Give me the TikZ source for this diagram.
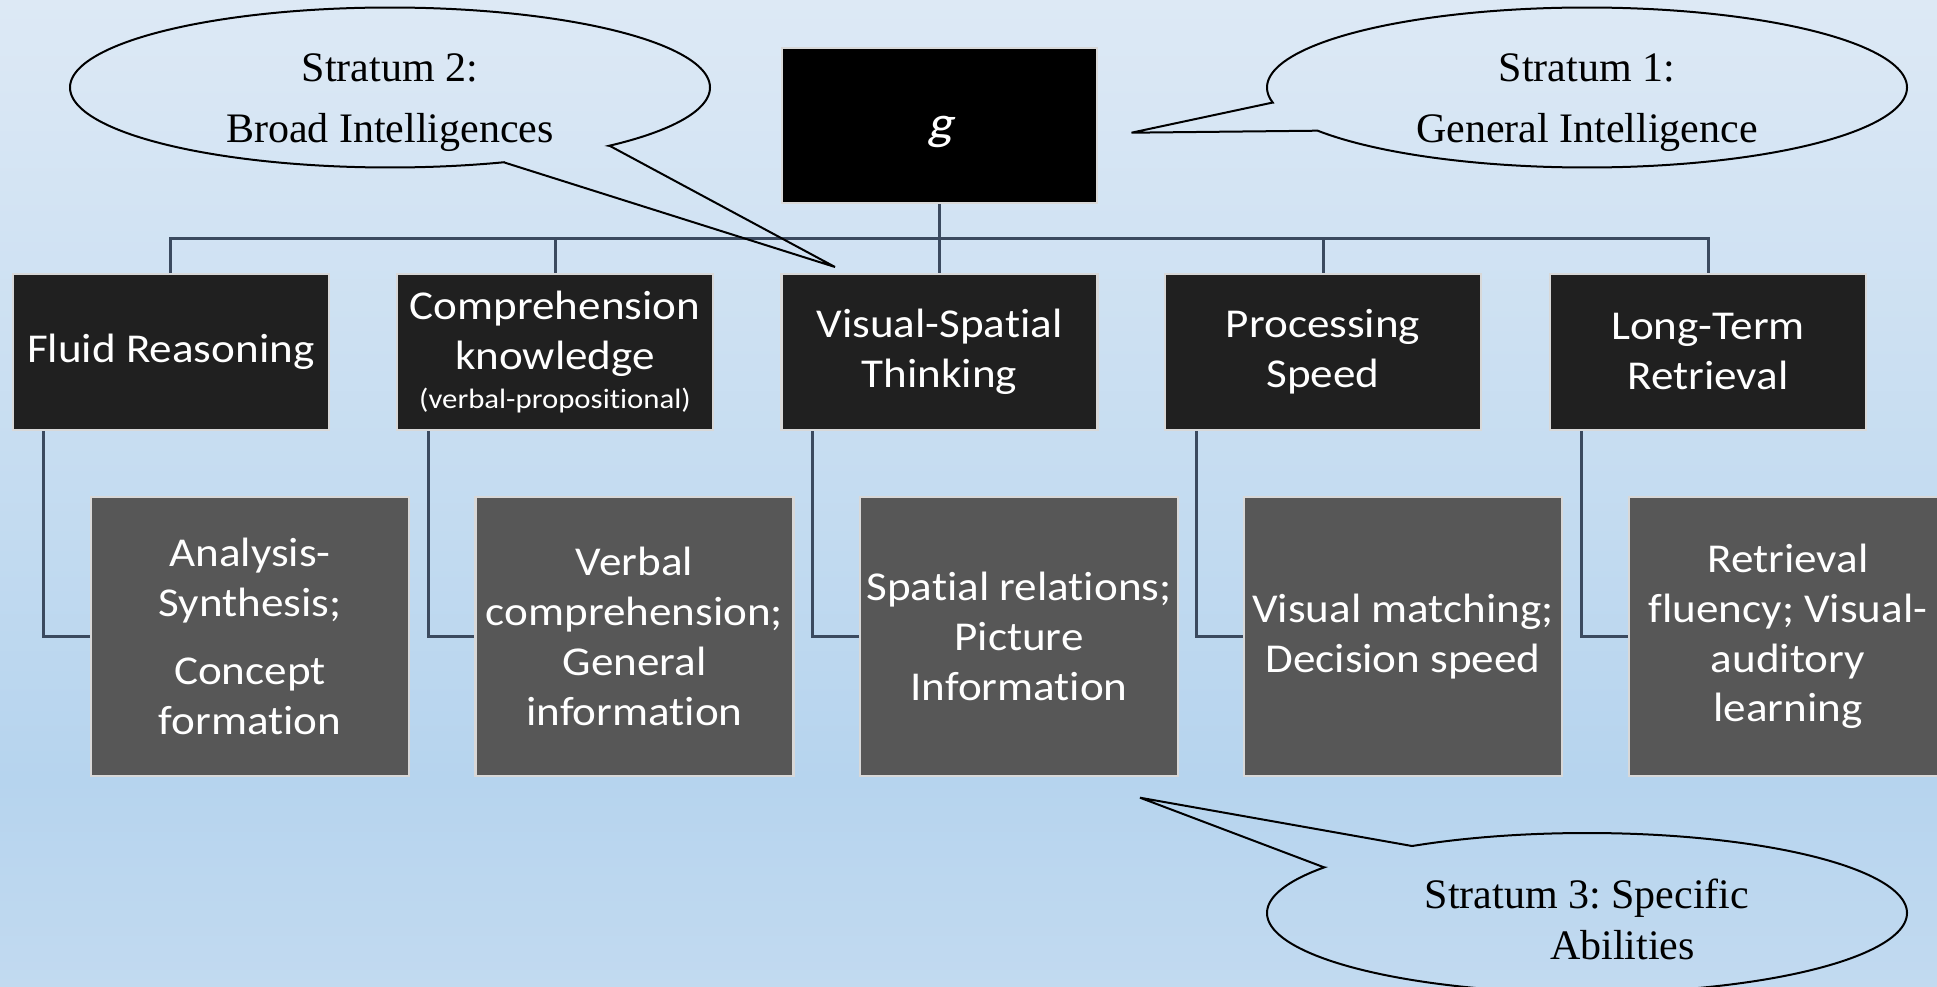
\documentclass[tikz,border=0pt]{standalone}
\usepackage{fontspec}
\newfontfamily\boxfont[FakeStretch=1.1, Ligatures=NoCommon]{Carlito}
\newfontfamily\rootfont[FakeStretch=1.1, FakeSlant=0.2]{Carlito}
\newfontfamily\calloutfont{Liberation Serif}
\frenchspacing

\definecolor{bgtop}{HTML}{DDE9F5}
\definecolor{bgmid}{HTML}{B6D4EE}
\definecolor{bgbot}{HTML}{C2DAF0}
\definecolor{rootfill}{HTML}{000000}
\definecolor{broadfill}{HTML}{202020}
\definecolor{specfill}{HTML}{575757}
\definecolor{boxedge}{HTML}{D8D8D8}
\definecolor{linkcol}{HTML}{3B4A5F}

\begin{document}
\begin{tikzpicture}[x=1pt, y=-1pt,
  boxbase/.style={rectangle, draw=boxedge, line width=2.5pt, text=white,
    align=center, inner sep=0pt,
    font=\boxfont\fontsize{41}{49.8}\selectfont},
  rootbox/.style={boxbase, fill=rootfill, minimum width=315pt, minimum height=155pt,
    font=\rootfont\fontsize{48}{56}\selectfont},
  broad/.style={boxbase, fill=broadfill, minimum width=316pt, minimum height=156pt},
  specific/.style={boxbase, fill=specfill, minimum width=318pt, minimum height=279pt},
  link/.style={draw=linkcol, line width=3pt},
  callout/.style={draw=black, line width=2pt, line join=miter},
  callouttext/.style={anchor=north, inner sep=0pt, align=center, text=black,
    font=\calloutfont\fontsize{42}{61.6}\selectfont}
]
% page and background
\useasboundingbox (0,0) rectangle (1937,987);
\shade[top color=bgtop, bottom color=bgmid] (0,0) rectangle (1937,781);
\shade[top color=bgmid, bottom color=bgbot] (0,780) rectangle (1937,987);

% stratum 1
\node[rootbox, text height=36pt, text depth=8pt] (g) at (939.5,125.5) {g};

% stratum 2
\node[broad] (fr) at (170.8,351.75) {Fluid Reasoning};
\node[broad] (ck) at (555,351.75) {Comprehension\\knowledge\\[-11pt]{\fontsize{28}{34}\selectfont (verbal-propositional)}};
\node[broad] (vs) at (939.5,351.75) {Visual-Spatial\\Thinking};
\node[broad] (ps) at (1323,351.75) {Processing\\Speed};
\node[broad] (lt) at (1708,351.75) {Long-Term\\Retrieval};

% stratum 3
\node[specific] (as) at (250,636.5) {Analysis-\\Synthesis;\\[18.7pt]Concept\\formation};
\node[specific] (vc) at (634.5,636.5) {Verbal\\comprehension;\\General\\information};
\node[specific] (sr) at (1019,636.5) {Spatial relations;\\Picture\\Information};
\node[specific] (vm) at (1403,636.5) {Visual matching;\\Decision speed};
\node[specific] (rf) at (1788,636.5) {Retrieval\\fluency; Visual-\\auditory\\learning};

% tree connectors
\coordinate (bus) at (939.5,238);
\draw[link] (g.south) -- (vs.north);
\draw[link] (fr.north) |- (bus) -| (lt.north);
\foreach \n in {ck,ps} \draw[link] (\n.north) -- (\n.north |- bus);
\foreach \a/\b in {fr/as, ck/vc, vs/sr, ps/vm, lt/rf}
  \draw[link] ([xshift=-127pt]\a.south) |- (\b.west);

% callout: stratum 2
\draw[callout] (505,162.7) -- (835,267) -- (610,146)
  -- plot[domain=46.8:-290.9, samples=240] ({390+320*cos(\x)},{87.5+80*sin(\x)}) -- cycle;
\node[callouttext] (s2) at (390,53.3) {Stratum 2:\\Broad Intelligences};

% callout: stratum 1
\draw[callout] (1272,102.7) -- (1131.5,132.7) -- (1316.8,130.7)
  -- plot[domain=147.4:-190.9, samples=240] ({1587+320*cos(\x)},{87.5+80*sin(\x)}) -- cycle;
\node[callouttext] (s1) at (1587,53.3) {Stratum 1:\\General Intelligence};

% callout: stratum 3
\draw[callout] (1412,846) -- (1140,797.7) -- (1324,867.3)
  -- plot[domain=214.8:-123.1, samples=240] ({1587+320*cos(\x)},{913+80*sin(\x)}) -- cycle;
\node[callouttext, font=\calloutfont\fontsize{42}{51}\selectfont] (s3) at (1587,878.3)
  {Stratum 3: Specific\\\hspace*{71pt}Abilities};
\end{tikzpicture}
\end{document}
